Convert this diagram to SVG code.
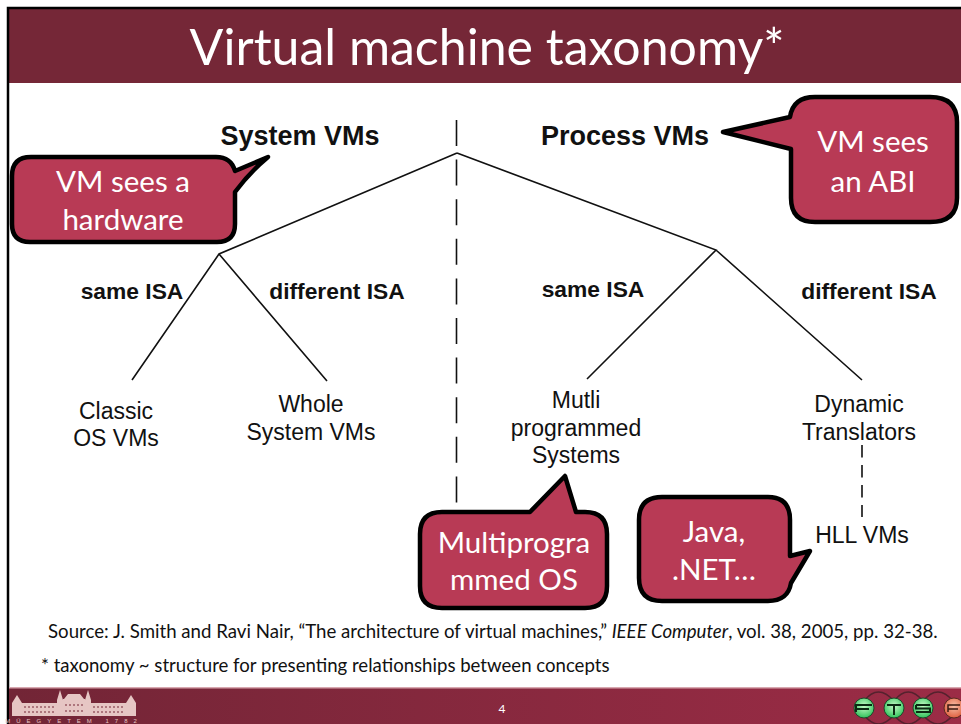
<svg xmlns="http://www.w3.org/2000/svg" width="961" height="724" viewBox="0 0 961 724">
<defs>
<linearGradient id="foot" x1="0" x2="1" y1="0" y2="0"><stop offset="0" stop-color="#722536"/><stop offset="1" stop-color="#9c2c46"/></linearGradient>
<radialGradient id="gb" cx="0.5" cy="0.4" r="0.6"><stop offset="0" stop-color="#c8fbc8"/><stop offset="1" stop-color="#2fc25a"/></radialGradient>
<radialGradient id="rb" cx="0.5" cy="0.4" r="0.6"><stop offset="0" stop-color="#f8c0a8"/><stop offset="1" stop-color="#e0603f"/></radialGradient>
</defs>
<style>
.sans{font-family:"Liberation Sans",Arial,sans-serif;fill:#111}
.b{font-weight:bold}
.cal{font-family:Lato,"Open Sans",sans-serif}
.co{fill:#b83a55;stroke:#000;stroke-width:4.5;stroke-linejoin:round}
.ct{font-family:Lato,"Open Sans",sans-serif;font-size:29.500px;fill:#fff;text-anchor:middle}
.t{font-size:27px;text-anchor:middle}
.isa{font-size:22.800px;text-anchor:middle}
.l{font-size:23px;text-anchor:middle}
.line{stroke:#111;stroke-width:1.600;fill:none}
</style>
<rect width="961" height="724" fill="#fff"/>
<g id="header">
<rect x="8" y="8" width="953" height="75" fill="#752737"/>
<path d="M8 724V8H961" fill="none" stroke="#000" stroke-width="2.500"/>
<text x="487" y="65" font-size="50" fill="#fff" text-anchor="middle" class="cal">Virtual machine taxonomy*</text>
</g>
<g id="connectors">
<path class="line" d="M456.500 120V503" stroke-dasharray="26 13.600"/>
<path class="line" d="M457 153L219 254L132 380M219 254L327 381M457 153L716 250L587 379M716 250L862 380"/>
<path class="line" d="M862 445V517" stroke-dasharray="12.500 7.500"/>
</g>
<g id="system-vms"><text class="sans b t" x="300" y="145">System VMs</text></g>
<g id="process-vms"><text class="sans b t" x="625" y="145">Process VMs</text></g>
<g id="label-same-1"><text class="sans b isa" x="132" y="299">same ISA</text></g>
<g id="label-diff-1"><text class="sans b isa" x="337" y="299">different ISA</text></g>
<g id="label-same-2"><text class="sans b isa" x="593" y="297">same ISA</text></g>
<g id="label-diff-2"><text class="sans b isa" x="869" y="299">different ISA</text></g>
<g id="classic"><text class="sans l" x="116" y="419">Classic</text><text class="sans l" x="116" y="446">OS VMs</text></g>
<g id="whole"><text class="sans l" x="311" y="412">Whole</text><text class="sans l" x="311" y="440">System VMs</text></g>
<g id="multi"><text class="sans l" x="576" y="408">Mutli</text><text class="sans l" x="576" y="436">programmed</text><text class="sans l" x="576" y="463">Systems</text></g>
<g id="dynamic"><text class="sans l" x="859" y="412">Dynamic</text><text class="sans l" x="859" y="440">Translators</text></g>
<g id="hll"><text class="sans l" x="862" y="543">HLL VMs</text></g>
<g id="callout-hw">
<path class="co" d="M31 157H216Q231 157 235 171L268 157Q250 172 235 192V224Q235 242 217 242H30Q12 242 12 224V176Q12 157 31 157Z"/>
<text class="ct" x="123" y="192">VM sees a</text><text class="ct" x="123" y="230">hardware</text>
</g>
<g id="callout-abi">
<path class="co" d="M815 97H930Q957 97 957 122V198Q957 222 930 222H815Q791 222 791 198V149L723 132L790 117Q793 97 815 97Z"/>
<text class="ct" x="873" y="152">VM sees</text><text class="ct" x="873" y="192">an ABI</text>
</g>
<g id="callout-os">
<path class="co" d="M442 512H530L565 476L576 512H585Q607 512 607 534V586Q607 608 585 608H442Q420 608 420 586V534Q420 512 442 512Z"/>
<text class="ct" x="514" y="553">Multiprogra</text><text class="ct" x="514" y="590">mmed OS</text>
</g>
<g id="callout-java">
<path class="co" d="M662 497H768Q790 497 790 520V556L810 551L791 583Q788 601 768 601H662Q639 601 639 578V520Q639 497 662 497Z"/>
<text class="ct" x="714" y="542">Java,</text><text class="ct" x="714" y="580">.NET…</text>
</g>
<g id="source"><text class="cal" font-size="18.650" fill="#111" x="48" y="638">Source: J. Smith and Ravi Nair, “The architecture of virtual machines,” <tspan font-style="italic">IEEE Computer</tspan>, vol. 38, 2005, pp. 32-38.</text></g>
<g id="note"><text class="cal" font-size="18.600" fill="#111" x="41" y="672">* taxonomy ~ structure for presenting relationships between concepts</text></g>
<g id="footer">
<rect x="9" y="688" width="952" height="36" fill="url(#foot)"/>
<rect x="9" y="687" width="952" height="1.500" fill="#d8a8b0"/>
<text x="502" y="713" font-size="12" fill="#fff" text-anchor="middle" class="cal">4</text>
<g fill="#e6c6c4">
<path d="M12 703L17 695L22 703V716H12ZM57 700L60 690L63 700V716H57ZM64 699H84L80 694H68ZM85 700L88 690L91 700V716H85ZM126 703L131 695L136 703V716H126Z"/>
<rect x="22" y="703" width="35" height="13"/><rect x="63" y="699" width="22" height="17"/><rect x="91" y="703" width="35" height="13"/>
<text x="74" y="723" font-size="6" letter-spacing="6" text-anchor="middle" font-family="Liberation Sans">MŰEGYETEM 1782</text>
</g>
<g stroke="#752737" stroke-width="1" stroke-dasharray="2 2"><path d="M24 707H55M24 712H55M65 705H83M65 711H83M93 707H124M93 712H124"/></g>
</g>
<g id="logo">
<path d="M864 701Q878 683 894 701Q908 683 923 701Q938 683 953 701M864 715Q878 733 894 715Q908 733 923 715Q938 733 953 715" fill="none" stroke="#55222e" stroke-width="1.500"/>
<circle cx="864" cy="708" r="10" fill="url(#gb)" stroke="#1c4a2a"/>
<circle cx="894" cy="708" r="10" fill="url(#gb)" stroke="#1c4a2a"/>
<circle cx="923" cy="708" r="10" fill="url(#gb)" stroke="#1c4a2a"/>
<circle cx="954" cy="708" r="10" fill="url(#rb)" stroke="#5a2a20"/>
<path d="M856 712V705H872M856 709H869M887 705H901M894 705V715M916 705H930M916 705V708.500H930V712H916" fill="none" stroke="#0d2a14" stroke-width="2"/>
<path d="M948 712V705H960M948 709H958" fill="none" stroke="#3a1a12" stroke-width="1.500"/>
</g>
</svg>
